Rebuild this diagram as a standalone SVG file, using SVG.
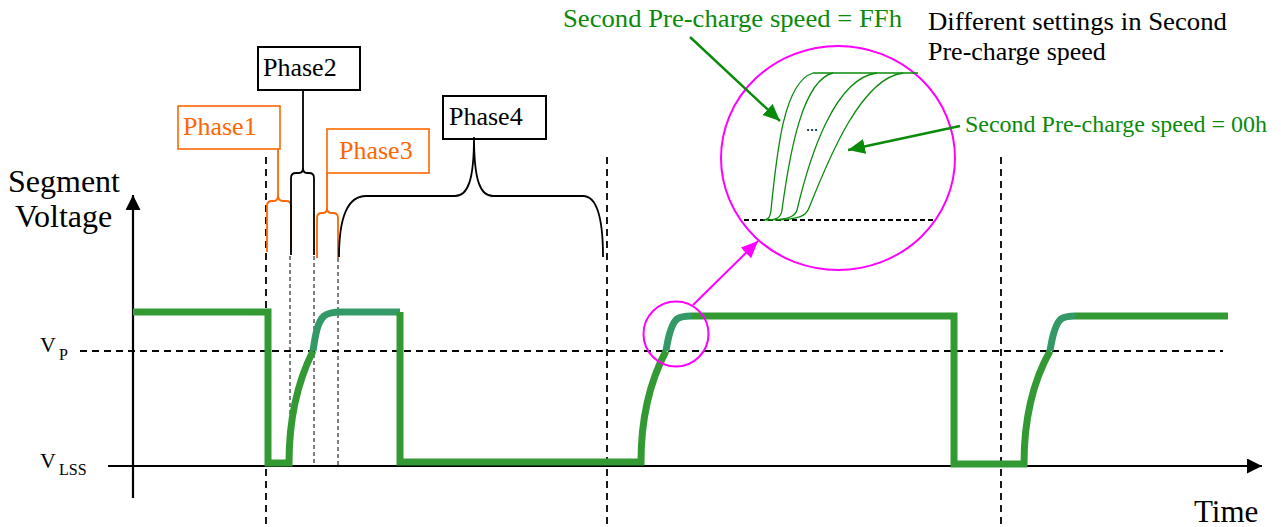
<svg xmlns="http://www.w3.org/2000/svg" width="1281" height="527" viewBox="0 0 1281 527">
<style>
text{font-family:"Liberation Serif","Times New Roman",serif;}
.blk{fill:#000;}
.org{fill:#FF6600;}
.grn{fill:#0A8A0A;}
.box{fill:#fff;stroke:#000;stroke-width:2;}
.obox{fill:#fff;stroke:#FF6600;stroke-width:1.6;}
.axis{stroke:#000;stroke-width:2.2;fill:none;}
.vdash{stroke:#000;stroke-width:1.8;stroke-dasharray:7 5;fill:none;}
.tdash{stroke:#000;stroke-width:1;stroke-dasharray:4 3;fill:none;}
.wave{stroke:#339933;stroke-width:7;fill:none;stroke-linejoin:miter;}
.teal{stroke:#339966;stroke-width:7;fill:none;}
.brace{stroke:#000;stroke-width:1.8;fill:none;}
.obrace{stroke:#FF6600;stroke-width:1.8;fill:none;}
.mag{stroke:#FF00FF;stroke-width:2;fill:none;}
.garrow{stroke:#0A8A0A;stroke-width:2.4;fill:none;}
.thin{stroke:#0A8A0A;stroke-width:1.3;fill:none;}
</style>
<defs>
<marker id="axArr" markerUnits="userSpaceOnUse" markerWidth="16" markerHeight="16" refX="15" refY="7.5" orient="auto"><path d="M0,0 L15,7.5 L0,15 z" fill="#000"/></marker>
<marker id="gArr" markerUnits="userSpaceOnUse" markerWidth="18" markerHeight="16" refX="17" refY="7.5" orient="auto"><path d="M0,0 L17,7.5 L0,15 z" fill="#0A8A0A"/></marker>
<marker id="mArr" markerUnits="userSpaceOnUse" markerWidth="18" markerHeight="16" refX="17" refY="7.5" orient="auto"><path d="M0,0 L17,7.5 L0,15 z" fill="#FF00FF"/></marker>
</defs>
<rect width="1281" height="527" fill="#fff"/>

<g id="axes">
<line class="axis" x1="133" y1="498" x2="133" y2="195" marker-end="url(#axArr)"/>
<line class="axis" x1="108" y1="466" x2="1262" y2="466" marker-end="url(#axArr)"/>
<line class="vdash" x1="80" y1="351" x2="1223" y2="351" stroke-width="1.5" stroke-dasharray="8 5"/>
<line class="vdash" x1="266" y1="157" x2="266" y2="527"/>
<line class="vdash" x1="607" y1="157" x2="607" y2="527"/>
<line class="vdash" x1="1001" y1="157" x2="1001" y2="527"/>
<line class="tdash" x1="290" y1="256" x2="290" y2="466"/>
<line class="tdash" x1="314" y1="256" x2="314" y2="466"/>
<line class="tdash" x1="338" y1="258" x2="338" y2="466"/>
</g>

<g id="axis-labels">
<text x="8" y="192" font-size="32" class="blk">Segment</text>
<text x="15" y="227" font-size="32" class="blk">Voltage</text>
<text x="40" y="352" font-size="22" class="blk">V<tspan x="59" y="360" font-size="16">P</tspan></text>
<text x="40" y="468" font-size="22" class="blk">V<tspan x="59" y="475" font-size="16">LSS</tspan></text>
<text x="1194" y="522" font-size="31" class="blk">Time</text>
</g>

<g id="waveform">
<path class="wave" d="M133,312 H268 V463 H289 C289,425 296,385 313,351"/>
<path class="teal" d="M313,351 C315,338 317,322 324,316 C328,313 333,312 341,312 H400"/>
<path class="wave" d="M400,312 V462 H641 C641,420 648,385 666,351"/>
<path class="teal" d="M666,351 C668,338 671,324 677,319 C680,317 684,316 691,316"/>
<path class="wave" d="M691,316 H954 V464 H1024 C1024,422 1031,385 1050,351"/>
<path class="teal" d="M1050,351 C1052,338 1055,324 1061,319 C1064,317 1068,316 1075,316"/>
<path class="wave" d="M1075,316 H1228"/>
</g>

<g id="phase1">
<rect class="obox" x="178" y="106" width="102" height="43"/>
<text x="183" y="135" font-size="26" class="org">Phase1</text>
</g>
<g id="phase2">
<rect class="box" x="258" y="47" width="102" height="43"/>
<text x="263" y="76" font-size="26" class="blk">Phase2</text>
</g>
<g id="phase3">
<rect class="obox" x="327" y="129" width="102" height="44"/>
<text x="339" y="159" font-size="26" class="org">Phase3</text>
</g>
<g id="phase4">
<rect class="box" x="443" y="96" width="103" height="43"/>
<text x="449" y="125" font-size="26" class="blk">Phase4</text>
</g>

<g id="magnifier">
<circle class="mag" cx="676" cy="334" r="32.5"/>
<ellipse class="mag" cx="838" cy="158" rx="117" ry="112"/>
<line x1="744" y1="220" x2="933" y2="220" stroke="#000" stroke-width="2" stroke-dasharray="5 3"/>
<path class="thin" d="M763,220 C768,220 770,218 771,210 C777,150 784,82 813,73 H918"/>
<path class="thin" d="M766,220 C776,220 781,218 782,210 C790,150 803,80 833,73"/>
<path class="thin" d="M770,220 C788,219 795,217 797,210 C810,155 835,78 877,73"/>
<path class="thin" d="M775,220 C800,219 806,216 809,208 C830,155 862,78 903,73"/>
<text x="806" y="131" font-size="16" class="blk">...</text>
</g>

<g id="labels">
<text x="563" y="27" font-size="26" class="grn" textLength="339" lengthAdjust="spacingAndGlyphs">Second Pre-charge speed = FFh</text>
<text x="928" y="30" font-size="26" class="blk" textLength="299" lengthAdjust="spacingAndGlyphs">Different settings in Second</text>
<text x="928" y="60" font-size="26" class="blk">Pre-charge speed</text>
<text x="965" y="132" font-size="24" class="grn" textLength="302" lengthAdjust="spacingAndGlyphs">Second Pre-charge speed = 00h</text>
</g>

<g id="connectors">
<path class="obrace" d="M267,252 V206 Q267,201 272,201 H274 Q278,201 278,195 V149 M278,195 Q278,201 283,201 H286 Q291,201 291,206 V252"/>
<path class="brace" d="M291,255 V178 Q291,173 296,173 H299 Q303,173 303,168 V90 M303,168 Q303,173 307,173 H309 Q314,173 314,178 V255"/>
<path class="obrace" d="M317,258 V218 Q317,213 322,213 H323 Q327,213 327,208 V173 M327,208 Q327,213 331,213 H333 Q338,213 338,218 V258"/>
<path class="brace" d="M339,257 C339,222 346,196 366,196 H455 C468,196 474,180 474,137 C474,180 480,196 493,196 H583 C598,196 603,222 603,257"/>
<line class="mag" x1="693" y1="305" x2="758" y2="241" marker-end="url(#mArr)"/>
<line class="garrow" x1="690" y1="37" x2="780" y2="121" marker-end="url(#gArr)"/>
<line class="garrow" x1="960" y1="126" x2="848" y2="150" marker-end="url(#gArr)"/>
</g>
</svg>
